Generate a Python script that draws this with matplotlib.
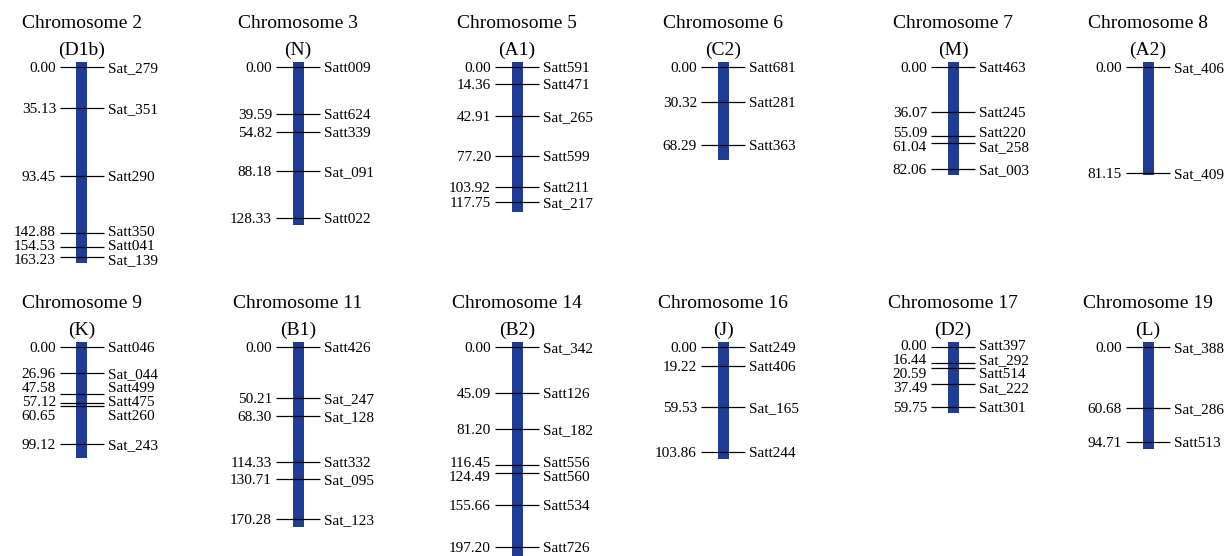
import matplotlib.pyplot as plt

plt.rcParams['font.family'] = ['Liberation Serif', 'DejaVu Serif']

# linkage map data (positions in cM)
chrom_names = ['Chromosome 2', 'Chromosome 3', 'Chromosome 5', 'Chromosome 6',
               'Chromosome 7', 'Chromosome 8', 'Chromosome 9', 'Chromosome 11',
               'Chromosome 14', 'Chromosome 16', 'Chromosome 17', 'Chromosome 19']
groups = ['(D1b)', '(N)', '(A1)', '(C2)', '(M)', '(A2)',
          '(K)', '(B1)', '(B2)', '(J)', '(D2)', '(L)']

positions = [
    [0.00, 35.13, 93.45, 142.88, 154.53, 163.23],
    [0.00, 39.59, 54.82, 88.18, 128.33],
    [0.00, 14.36, 42.91, 77.20, 103.92, 117.75],
    [0.00, 30.32, 68.29],
    [0.00, 36.07, 55.09, 61.04, 82.06],
    [0.00, 81.15],
    [0.00, 26.96, 47.58, 57.12, 60.65, 99.12],
    [0.00, 50.21, 68.30, 114.33, 130.71, 170.28],
    [0.00, 45.09, 81.20, 116.45, 124.49, 155.66, 197.20],
    [0.00, 19.22, 59.53, 103.86],
    [0.00, 16.44, 20.59, 37.49, 59.75],
    [0.00, 60.68, 94.71],
]
markers = [
    ['Sat_279', 'Sat_351', 'Satt290', 'Satt350', 'Satt041', 'Sat_139'],
    ['Satt009', 'Satt624', 'Satt339', 'Sat_091', 'Satt022'],
    ['Satt591', 'Satt471', 'Sat_265', 'Satt599', 'Satt211', 'Sat_217'],
    ['Satt681', 'Satt281', 'Satt363'],
    ['Satt463', 'Satt245', 'Satt220', 'Sat_258', 'Sat_003'],
    ['Sat_406', 'Sat_409'],
    ['Satt046', 'Sat_044', 'Satt499', 'Satt475', 'Satt260', 'Sat_243'],
    ['Satt426', 'Sat_247', 'Sat_128', 'Satt332', 'Sat_095', 'Sat_123'],
    ['Sat_342', 'Satt126', 'Sat_182', 'Satt556', 'Satt560', 'Satt534', 'Satt726'],
    ['Satt249', 'Satt406', 'Sat_165', 'Satt244'],
    ['Satt397', 'Sat_292', 'Satt514', 'Sat_222', 'Satt301'],
    ['Sat_388', 'Sat_286', 'Satt513'],
]
# drawn length of each chromosome bar (cM)
chrom_len = [168.7, 134.0, 125.8, 81.4, 86.6, 82.4, 113.0, 178.0, 210.0, 111.0, 65.7, 102.0]

# layout (pixels)
W, H = 1228, 556
rows = [(0, 280), (280, 556)]
zero_y = [67, 347]
centers = [82, 298, 517, 723, 953, 1148]
scales = [1.162, 1.179, 1.15, 1.142, 1.247, 1.31, 0.98, 1.01, 1.014, 1.008, 1.0, 1.0]
bar_color = '#1f3c96'
label_size = 11
title_size = 14
label_gap = 14


def spread(vals, gap):
    # push label positions apart so they don't overlap
    p = list(vals)
    for _ in range(300):
        moved = False
        for k in range(1, len(p)):
            d = p[k] - p[k - 1]
            if d < gap - 1e-6:
                shift = (gap - d) / 2
                p[k - 1] -= shift
                p[k] += shift
                moved = True
        if not moved:
            break
    return p


fig = plt.figure(figsize=(W / 100, H / 100), dpi=100)

for i in range(len(chrom_names)):
    r = i // 6
    cx = centers[i % 6]
    top, bot = rows[r]
    s = scales[i]
    ax = fig.add_axes([(cx - 100) / W, 1 - bot / H, 200 / W, (bot - top) / H])
    ax.set_xlim(-100, 100)
    ax.set_ylim((bot - zero_y[r]) / s, (top - zero_y[r]) / s)
    ax.axis('off')

    ax.bar(0, chrom_len[i] + 5 / s, width=11, bottom=-5 / s, color=bar_color)
    ax.hlines(positions[i], -22, 22, color='black', lw=0.9)

    label_y = spread(positions[i], label_gap / s)
    for p, ly, m in zip(positions[i], label_y, markers[i]):
        ax.text(-26, ly, f'{p:.2f}', ha='right', va='center_baseline', fontsize=label_size)
        ax.text(26, ly, m, ha='left', va='center_baseline', fontsize=label_size)

    h = bot - top
    ax.text(0.5, 1 - 23 / h, chrom_names[i], transform=ax.transAxes,
            ha='center', va='center', fontsize=title_size)
    ax.text(0.5, 1 - 50 / h, groups[i], transform=ax.transAxes,
            ha='center', va='center', fontsize=title_size)

fig.savefig('out.png', dpi=100)
